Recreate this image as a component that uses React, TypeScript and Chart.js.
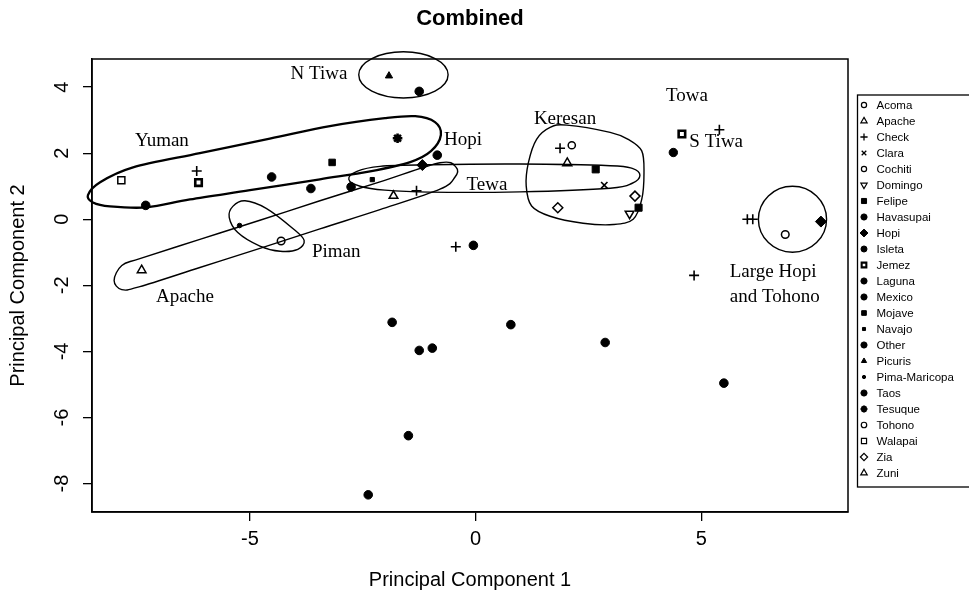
import React, { useEffect, useRef } from 'react';
import { Chart, registerables } from 'chart.js';
import { drawPoint } from 'chart.js/helpers';

Chart.register(...registerables);

const FONT_SANS = '"Liberation Sans", Arial, Helvetica, sans-serif';
const FONT_SERIF = '"Liberation Serif", "Times New Roman", Times, serif';

// ---- data ----
const groupNames = [
  'Acoma', 'Apache', 'Check', 'Clara', 'Cochiti', 'Domingo', 'Felipe', 'Havasupai',
  'Hopi', 'Isleta', 'Jemez', 'Laguna', 'Mexico', 'Mojave', 'Navajo', 'Other',
  'Picuris', 'Pima-Maricopa', 'Taos', 'Tesuque', 'Tohono', 'Walapai', 'Zia', 'Zuni',
];

const pointGroup = [
  'Walapai', 'Check', 'Jemez', 'Havasupai', 'Havasupai', 'Mexico', 'Pima-Maricopa', 'Tohono',
  'Apache', 'Mojave', 'Other', 'Navajo', 'Apache', 'Check', 'Picuris', 'Taos',
  'Tesuque', 'Other', 'Hopi', 'Check', 'Other', 'Check', 'Acoma', 'Zuni',
  'Felipe', 'Clara', 'Zia', 'Zia', 'Domingo', 'Felipe', 'Isleta', 'Jemez',
  'Check', 'Check', 'Check', 'Tohono', 'Hopi', 'Check', 'Other', 'Laguna',
  'Other', 'Other', 'Other', 'Other', 'Other', 'Other',
];
const pc1 = [
  -7.85, -6.18, -6.14, -4.52, -3.65, -7.31, -5.23, -4.31,
  -7.40, -3.18, -2.76, -2.29, -1.82, -1.31, -1.92, -1.25,
  -1.73, -0.85, -1.18, -0.44, -0.05, 1.87, 2.13, 2.03,
  2.66, 2.85, 1.82, 3.53, 3.41, 3.61, 4.38, 4.57,
  5.40, 6.02, 6.14, 6.86, 7.65, 4.84, 5.50, 2.87,
  0.78, -1.85, -1.25, -0.96, -1.49, -2.38,
];
const pc2 = [
  1.18, 1.46, 1.11, 1.28, 0.93, 0.42, -0.19, -0.66,
  -1.54, 1.72, 0.98, 1.20, 0.71, 0.86, 4.34, 3.87,
  2.45, 1.94, 1.64, -0.83, -0.79, 2.15, 2.24, 1.70,
  1.51, 1.03, 0.35, 0.70, 0.17, 0.35, 2.02, 2.58,
  2.71, 0.0, 0.0, -0.46, -0.07, -1.70, -4.96, -3.73,
  -3.19, -3.12, -3.97, -3.90, -6.55, -8.34,
];

const xTicksStep = 5;
const yTicksStep = 2;

// group outlines (PC1, PC2)
const yumanOutline: [number, number][] = [
  [-8.59, 0.73], [-8.32, 1.12], [-7.59, 1.57], [-6.11, 2.0], [-4.56, 2.44], [-3.23, 2.82],
  [-2.01, 3.06], [-1.34, 3.12], [-0.9, 2.94], [-0.77, 2.55], [-0.99, 2.06], [-1.45, 1.73],
  [-2.34, 1.45], [-3.45, 1.21], [-5.0, 0.88], [-6.33, 0.6], [-7.28, 0.36], [-8.1, 0.39], [-8.48, 0.51],
];
const apacheOutline: [number, number][] = [
  [-8.01, -1.85], [-7.84, -1.4], [-7.44, -1.19], [-6.11, -0.61], [-4.78, -0.03], [-3.45, 0.56],
  [-2.12, 1.13], [-0.79, 1.71], [-0.43, 1.57], [-0.46, 1.27], [-0.79, 0.91], [-2.12, 0.29],
  [-3.45, -0.29], [-4.78, -0.88], [-6.11, -1.46], [-7.44, -2.04], [-7.84, -2.13],
];
const pimanOutline: [number, number][] = [
  [-5.46, 0.06], [-5.38, 0.39], [-5.11, 0.56], [-4.64, 0.33], [-4.05, -0.28],
  [-3.8, -0.64], [-3.94, -0.91], [-4.33, -0.97], [-4.78, -0.81], [-5.27, -0.4],
];
const tewaOutline: [number, number][] = [
  [-2.81, 1.21], [-2.63, 1.45], [-2.12, 1.6], [-1.01, 1.65], [0.98, 1.67], [2.98, 1.62],
  [3.47, 1.54], [3.64, 1.33], [3.47, 1.09], [2.98, 0.94], [0.98, 0.83], [-1.01, 0.82],
  [-2.01, 0.88], [-2.56, 1.0],
];
const keresanOutline: [number, number][] = [
  [1.65, 2.78], [2.02, 2.85], [2.98, 2.63], [3.38, 2.42], [3.68, 2.07], [3.73, 1.41],
  [3.68, 0.6], [3.49, 0.0], [3.05, -0.16], [2.38, -0.12], [1.65, 0.09], [1.24, 0.4],
  [1.12, 1.01], [1.17, 1.72], [1.35, 2.42],
];
const nTiwaEllipse = { cx: -1.6, cy: 4.37, rx: 0.99, ry: 0.7 };
const largeHopiEllipse = { cx: 7.02, cy: 0.0, rx: 0.755, ry: 1.0 };

const groupLabels = ['N Tiwa', 'Yuman', 'Hopi', 'Keresan', 'Towa', 'S Tiwa', 'Tewa', 'Piman', 'Apache', 'Large Hopi', 'and Tohono'];
const labelX = [-3.47, -6.95, -0.28, 1.98, 4.68, 5.33, 0.25, -3.09, -6.44, 5.63, 5.63];
const labelY = [4.4, 2.36, 2.39, 3.03, 3.73, 2.33, 1.03, -1.0, -2.34, -1.61, -2.34];
const labelAlign: CanvasTextAlign[] = ['center', 'center', 'center', 'center', 'center', 'center', 'center', 'center', 'center', 'left', 'left'];

// ---- marker styles ----
type MStyle = { style: string; r: number; fill: boolean; rot?: number; bw: number };
const markerStyles: Record<string, MStyle> = {
  Acoma: { style: 'circle', r: 3.6, fill: false, bw: 1.5 },
  Apache: { style: 'triangle', r: 5, fill: false, bw: 1.5 },
  Check: { style: 'cross', r: 5, fill: false, bw: 1.6 },
  Clara: { style: 'crossRot', r: 4.5, fill: false, bw: 1.6 },
  Cochiti: { style: 'circle', r: 3.6, fill: false, bw: 1.5 },
  Domingo: { style: 'triangle', r: 5, fill: false, rot: 180, bw: 1.5 },
  Felipe: { style: 'rect', r: 5, fill: true, bw: 1 },
  Havasupai: { style: 'circle', r: 4.3, fill: true, bw: 1 },
  Hopi: { style: 'rectRot', r: 5.5, fill: true, bw: 1 },
  Isleta: { style: 'circle', r: 4.2, fill: true, bw: 1 },
  Jemez: { style: 'rect', r: 4.6, fill: false, bw: 2.6 },
  Laguna: { style: 'circle', r: 4.3, fill: true, bw: 1 },
  Mexico: { style: 'circle', r: 4.3, fill: true, bw: 1 },
  Mojave: { style: 'rect', r: 4.6, fill: true, bw: 1 },
  Navajo: { style: 'rect', r: 3, fill: true, bw: 1 },
  Other: { style: 'circle', r: 4.3, fill: true, bw: 1 },
  Picuris: { style: 'triangle', r: 4.2, fill: true, bw: 1 },
  'Pima-Maricopa': { style: 'circle', r: 2.3, fill: true, bw: 1 },
  Taos: { style: 'circle', r: 4.3, fill: true, bw: 1 },
  Tesuque: { style: 'star', r: 4.8, fill: false, bw: 2.6 },
  Tohono: { style: 'circle', r: 3.8, fill: false, bw: 1.5 },
  Walapai: { style: 'rect', r: 5, fill: false, bw: 1.5 },
  Zia: { style: 'rectRot', r: 5, fill: false, bw: 1.5 },
  Zuni: { style: 'triangle', r: 5.2, fill: false, bw: 1.5 },
};

function splinePath(ctx: CanvasRenderingContext2D, pts: number[][]) {
  const n = pts.length;
  ctx.beginPath();
  ctx.moveTo(pts[0][0], pts[0][1]);
  for (let i = 0; i < n; i++) {
    const p0 = pts[(i - 1 + n) % n];
    const p1 = pts[i];
    const p2 = pts[(i + 1) % n];
    const p3 = pts[(i + 2) % n];
    ctx.bezierCurveTo(
      p1[0] + (p2[0] - p0[0]) / 6, p1[1] + (p2[1] - p0[1]) / 6,
      p2[0] - (p3[0] - p1[0]) / 6, p2[1] - (p3[1] - p1[1]) / 6,
      p2[0], p2[1]
    );
  }
  ctx.closePath();
}

const outlinePlugin = {
  id: 'groupOutlines',
  beforeDatasetsDraw(chart: any) {
    const { ctx } = chart;
    const xs = chart.scales.x;
    const ys = chart.scales.y;
    const px = (v: number) => xs.getPixelForValue(v);
    const py = (v: number) => ys.getPixelForValue(v);
    ctx.save();
    ctx.strokeStyle = '#000';
    const outlines: { pts: [number, number][]; w: number }[] = [
      { pts: yumanOutline, w: 2.3 },
      { pts: apacheOutline, w: 1.4 },
      { pts: pimanOutline, w: 1.4 },
      { pts: tewaOutline, w: 1.4 },
      { pts: keresanOutline, w: 1.4 },
    ];
    outlines.forEach((o) => {
      ctx.lineWidth = o.w;
      splinePath(ctx, o.pts.map(([a, b]) => [px(a), py(b)]));
      ctx.stroke();
    });
    [nTiwaEllipse, largeHopiEllipse].forEach((e) => {
      const cx = px(e.cx);
      const cy = py(e.cy);
      const rx = Math.abs(px(e.cx + e.rx) - cx);
      const ry = Math.abs(py(e.cy + e.ry) - cy);
      ctx.lineWidth = 1.4;
      ctx.beginPath();
      ctx.ellipse(cx, cy, rx, ry, 0, 0, Math.PI * 2);
      ctx.stroke();
    });
    ctx.fillStyle = '#000';
    ctx.font = `19px ${FONT_SERIF}`;
    ctx.textBaseline = 'middle';
    groupLabels.forEach((t, i) => {
      ctx.textAlign = labelAlign[i];
      ctx.fillText(t, px(labelX[i]), py(labelY[i]));
    });
    ctx.restore();
  },
  afterDraw(chart: any) {
    const { ctx, chartArea: a, width } = chart;
    ctx.save();
    ctx.strokeStyle = '#000';
    ctx.lineWidth = 1.5;
    ctx.strokeRect(a.left, a.top, a.right - a.left, a.bottom - a.top);
    // legend box
    const boxLeft = a.right + 9.5;
    const boxTop = a.top + 36;
    const boxBottom = a.bottom - 25;
    ctx.lineWidth = 1.3;
    ctx.strokeRect(boxLeft, boxTop, width + 20 - boxLeft, boxBottom - boxTop);
    ctx.font = `11.5px ${FONT_SANS}`;
    ctx.textAlign = 'left';
    ctx.textBaseline = 'middle';
    groupNames.forEach((name, i) => {
      const st = markerStyles[name];
      const yy = a.top + 46 + i * 16;
      const xx = boxLeft + 6.5;
      ctx.fillStyle = st.fill ? '#000' : 'rgba(0,0,0,0)';
      ctx.strokeStyle = '#000';
      ctx.lineWidth = Math.max(1, st.bw * 0.8);
      drawPoint(ctx, { pointStyle: st.style as any, radius: st.r * 0.72, rotation: st.rot || 0, borderWidth: st.bw } as any, xx, yy);
      ctx.fillStyle = '#000';
      ctx.fillText(name, boxLeft + 19, yy + 0.5);
    });
    ctx.restore();
  },
};

export default function App() {
  const canvasRef = useRef<HTMLCanvasElement | null>(null);

  useEffect(() => {
    const canvas = canvasRef.current;
    if (!canvas) return;
    const datasets = groupNames.map((name) => {
      const st = markerStyles[name];
      const data = pointGroup
        .map((g, i) => (g === name ? { x: pc1[i], y: pc2[i] } : null))
        .filter((p) => p !== null) as { x: number; y: number }[];
      return {
        label: name,
        data,
        pointStyle: st.style as any,
        pointRadius: st.r,
        pointHoverRadius: st.r,
        pointRotation: st.rot || 0,
        pointBorderWidth: st.bw,
        pointBackgroundColor: st.fill ? '#000' : 'rgba(0,0,0,0)',
        pointBorderColor: '#000',
        showLine: false,
      };
    });

    const tickFont = { family: FONT_SANS, size: 20 };
    const chart = new Chart(canvas, {
      type: 'scatter',
      data: { datasets },
      options: {
        animation: false,
        responsive: false,
        devicePixelRatio: 1,
        layout: { padding: { left: 0, right: 121, top: 0, bottom: 0 } },
        plugins: {
          legend: { display: false },
          tooltip: { enabled: false },
          title: {
            display: true,
            text: 'Combined',
            color: '#000',
            fullSize: false,
            font: { family: FONT_SANS, size: 22, weight: 'bold', lineHeight: 1.2 },
            padding: { top: 6, bottom: 26.6 },
          },
        },
        scales: {
          x: {
            type: 'linear',
            min: -8.5,
            max: 8.25,
            ticks: { stepSize: xTicksStep, includeBounds: false, color: '#000', font: tickFont, padding: 6 },
            grid: { drawOnChartArea: false, drawTicks: true, tickLength: 9, color: '#000', lineWidth: 1.3 },
            border: { display: true, color: '#000', width: 1.5 },
            title: { display: true, text: 'Principal Component 1', color: '#000', font: tickFont, padding: { top: 0, bottom: 2 } },
            afterFit: (s: any) => { s.height = 82; },
          },
          y: {
            type: 'linear',
            min: -8.86,
            max: 4.85,
            ticks: {
              stepSize: yTicksStep, includeBounds: false, color: '#000', font: tickFont, padding: 12,
              minRotation: 90, maxRotation: 90, crossAlign: 'center',
            },
            grid: { drawOnChartArea: false, drawTicks: true, tickLength: 9, color: '#000', lineWidth: 1.3 },
            border: { display: true, color: '#000', width: 1.5 },
            title: { display: true, text: 'Principal Component 2', color: '#000', font: tickFont, padding: { top: 6, bottom: 0 } },
            afterFit: (s: any) => { s.width = 92; },
          },
        },
      } as any,
      plugins: [outlinePlugin],
    });
    return () => chart.destroy();
  }, []);

  return (
    <div style={{ position: 'fixed', left: 0, top: 0, width: 969, height: 594, overflow: 'hidden', background: '#fff' }}>
      <canvas ref={canvasRef} width={969} height={594} style={{ width: 969, height: 594, display: 'block' }} />
    </div>
  );
}
